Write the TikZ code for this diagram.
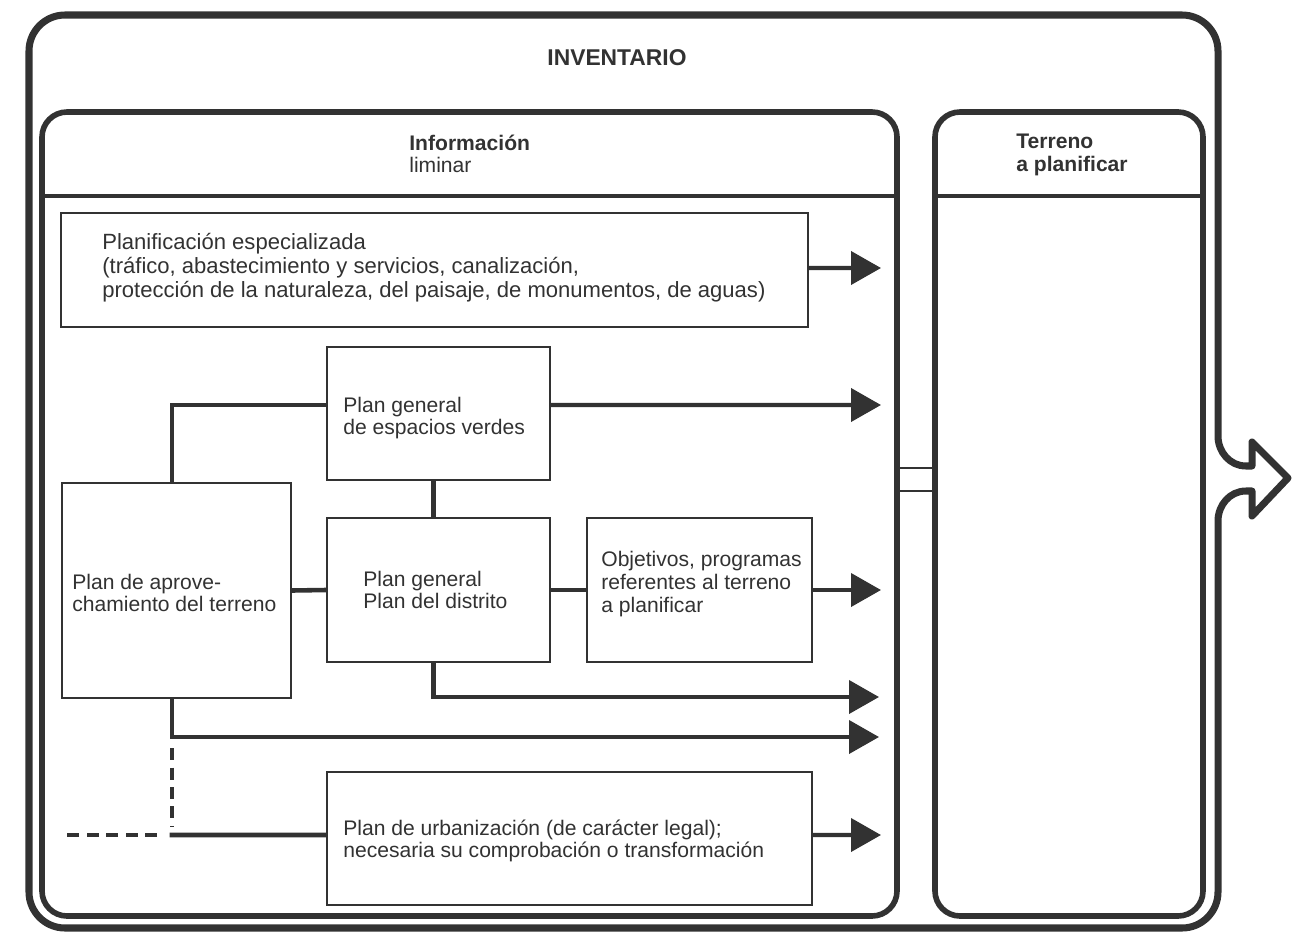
\documentclass[tikz,border=0pt]{standalone}
\usepackage{fontspec}
\setmainfont{Liberation Sans}
\usetikzlibrary{arrows.meta}
\definecolor{ink}{RGB}{50,50,50}
\tikzset{
  px/.style={x=0.02cm,y=-0.02cm},
  box/.style={draw=ink,line width=1.4pt,inner sep=0pt},
  txt/.style={text=ink,align=left,inner sep=0pt,anchor=west,font=\fontsize{12}{12.9}\selectfont},
  btxt/.style={txt,font=\bfseries\fontsize{12}{12.9}\selectfont},
  conn/.style={draw=ink,line width=2.6pt},
  arr/.style={conn,line width=2.3pt,-{Triangle[length=0.6cm,width=0.66cm]}},
  dsh/.style={draw=ink,line width=2.6pt,dash pattern=on 0.24cm off 0.15cm},
  frame/.style={draw=ink,line width=4pt},
  inframe/.style={draw=ink,line width=3.2pt},
}
\begin{document}
\begin{tikzpicture}[px]
\useasboundingbox (0,0) rectangle (1298,933);
% outer frame with exit arrow
\draw[frame,line join=round] (1218,436) to[out=-90,in=180] (1246,466) -- (1252,466) -- (1252,442) -- (1288,478) -- (1252,516) -- (1252,491) -- (1246,491) to[out=180,in=90] (1218,521) [rounded corners=0.72cm] -- (1218,928) -- (29,928) -- (29,15) -- (1218,15) -- (1218,436);
\node[btxt,anchor=center,font=\bfseries\fontsize{13}{14}\selectfont] (inv) at (617,58) {INVENTARIO};
% Informacion box
\draw[inframe,rounded corners=0.5cm] (42,112) rectangle (897,916);
\draw[conn,line width=2.4pt] (42,196) -- (897,196);
\node[txt] (info) at (409,154) {\textbf{Información}\\liminar};
% Terreno box
\draw[inframe,rounded corners=0.5cm] (935,112) rectangle (1203,916);
\draw[conn,line width=2.4pt] (935,196) -- (1203,196);
\node[btxt] (ter) at (1016,155) {Terreno\\a planificar};
% link between the two boxes
\draw[box,line width=1.6pt] (897,468) -- (935,468) (897,491) -- (935,491);
% inner boxes
\node[box,minimum width=14.94cm,minimum height=2.28cm] (pe) at (434.5,270) {};
\node[txt,font=\fontsize{12.55}{13.6}\selectfont] at (102,268) {Planificación especializada\\(tráfico, abastecimiento y servicios, canalización,\\protección de la naturaleza, del paisaje, de monumentos, de aguas)};
\node[box,minimum width=4.46cm,minimum height=2.66cm] (ev) at (438.5,413.5) {};
\node[txt] at (343,418) {Plan general\\de espacios verdes};
\node[box,minimum width=4.58cm,minimum height=4.30cm] (pa) at (176.5,590.5) {};
\node[txt] at (72,593) {Plan de aprove-\\chamiento del terreno};
\node[box,minimum width=4.46cm,minimum height=2.88cm] (pg) at (438.5,590) {};
\node[txt] at (363,590) {Plan general\\Plan del distrito};
\node[box,minimum width=4.5cm,minimum height=2.88cm] (ob) at (699.5,590) {};
\node[txt] at (601,584) {Objetivos, programas\\referentes al terreno\\a planificar};
\node[box,minimum width=9.7cm,minimum height=2.66cm] (pu) at (569.5,838.5) {};
\node[txt] at (343,841) {Plan de urbanización (de carácter legal);\\necesaria su comprobación o transformación};
% free ends
\coordinate (e1) at (881,268);
\coordinate (e2) at (881,405);
\coordinate (e3) at (881,590);
\coordinate (e4) at (879,697);
\coordinate (e5) at (879,737);
\coordinate (e6) at (881,835);
\coordinate (j) at (172,740);
\coordinate (c) at (172,835);
\coordinate (d) at (60,835);
% connectors
\draw[arr] ([yshift=0.04cm]pe.east) -- (e1);
\draw[conn] ([yshift=0.17cm]ev.west) -| ([xshift=-0.09cm]pa.north);
\draw[arr] ([yshift=0.17cm]ev.east) -- (e2);
\draw[conn] ([xshift=-0.1cm]ev.south) -- ([xshift=-0.1cm]pg.north);
\draw[conn] (pa.east) -- (pg.west);
\draw[conn] (pg.east) -- (ob.west);
\draw[arr] (ob.east) -- (e3);
\draw[arr] ([xshift=-0.1cm]pg.south) |- (e4);
\draw[arr] ([xshift=-0.09cm]pa.south) |- (e5);
\draw[dsh] ([yshift=-0.16cm]j) -- ([yshift=0.16cm]c);
\draw[dsh] ([xshift=-0.3cm]c) -- (d);
\draw[conn] ([xshift=-0.05cm]c) -- ([yshift=0.07cm]pu.west);
\draw[arr] ([yshift=0.07cm]pu.east) -- (e6);
\end{tikzpicture}
\end{document}
